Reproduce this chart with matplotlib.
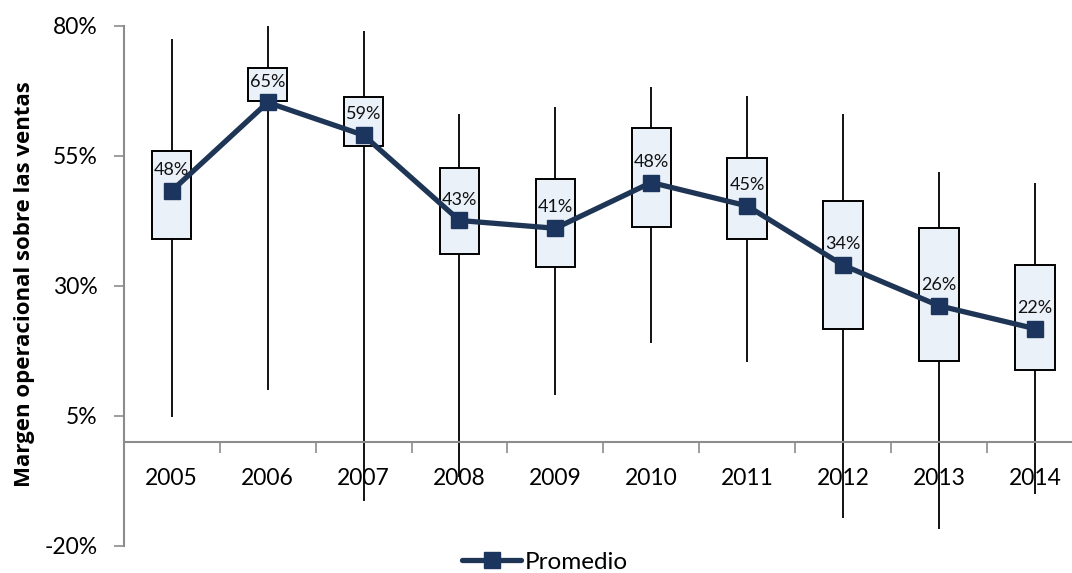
import numpy as np
import matplotlib
matplotlib.use("Agg")
import matplotlib.pyplot as plt
from matplotlib.ticker import FixedLocator, NullFormatter

plt.rcParams['font.family'] = ['Lato', 'DejaVu Sans']

years = ["2005", "2006", "2007", "2008", "2009", "2010", "2011", "2012", "2013", "2014"]
whisker_high = [77.5, 80.0, 79.0, 63.0, 64.5, 68.3, 66.6, 63.0, 51.9, 49.8]
box_high = [56.0, 72.0, 66.4, 52.6, 50.6, 60.3, 54.7, 46.3, 41.2, 34.0]
box_low = [39.0, 65.6, 57.0, 36.2, 33.7, 41.3, 39.1, 21.7, 15.6, 13.8]
whisker_low = [4.75, 10.0, -11.3, -6.7, 9.0, 19.1, 15.4, -14.7, -16.8, -10.0]
promedio = [48.3, 65.3, 59.0, 42.6, 41.1, 49.9, 45.4, 34.0, 26.2, 21.8]
promedio_labels = ["48%", "65%", "59%", "43%", "41%", "48%", "45%", "34%", "26%", "22%"]

navy = '#1f3556'
box_fill = '#eaf1f9'
axis_grey = '#8c8c8c'

fig = plt.figure(figsize=(10.72, 5.73), dpi=100)
ax = fig.add_axes([123.8 / 1072, 1 - 546 / 573, 959 / 1072, 520 / 573])

x = np.arange(len(years))

# whiskers (min-max)
ax.vlines(x, whisker_low, whisker_high, color='black', lw=1.3, zorder=2, clip_on=False)

# boxes
heights = np.array(box_high) - np.array(box_low)
ax.bar(x, heights, width=0.41, bottom=box_low, color=box_fill,
       edgecolor='black', linewidth=1.4, zorder=3)

# average line
line, = ax.plot(x, promedio, color=navy, lw=3.8, marker='s', markersize=11,
                markerfacecolor='#1c355e', markeredgecolor='#1c355e',
                zorder=4, label='Promedio', solid_capstyle='round')

for xi, yi, lab in zip(x, promedio, promedio_labels):
    ax.annotate(lab, (xi, yi), xytext=(0, 15), textcoords='offset points',
                ha='center', va='center', fontsize=13, color='#111111', zorder=5)

ax.set_xlim(-0.5, len(years) - 0.5)
ax.set_ylim(-20, 80)

# y axis
ax.set_yticks([-20, 5, 30, 55, 80])
ax.set_yticklabels(['-20%', '5%', '30%', '55%', '80%'])
ax.tick_params(axis='y', length=7, width=1.2, color=axis_grey, pad=12, labelsize=16.5)

# x axis: boundary ticks, labels at the centres
ax.xaxis.set_major_locator(FixedLocator(np.arange(-0.5, len(years), 1.0)))
ax.xaxis.set_major_formatter(NullFormatter())
ax.xaxis.set_minor_locator(FixedLocator(x))
ax.set_xticklabels(years, minor=True)
ax.tick_params(axis='x', which='major', length=8, width=1.2, color=axis_grey, direction='out')
ax.tick_params(axis='x', which='minor', length=0, pad=19, labelsize=16.5)

ax.spines['top'].set_visible(False)
ax.spines['right'].set_visible(False)
ax.spines['bottom'].set_position(('data', 0))
ax.spines['bottom'].set_color(axis_grey)
ax.spines['bottom'].set_linewidth(1.5)
ax.spines['left'].set_color(axis_grey)
ax.spines['left'].set_linewidth(1.5)

fig.text(25 / 1072, 1 - 284 / 573, 'Margen operacional sobre las ventas',
         rotation=90, ha='center', va='center', fontsize=16, fontweight='bold',
         family=['Open Sans', 'DejaVu Sans'])

fig.legend(handles=[line], loc='center', bbox_to_anchor=(545 / 1072, 1 - 562 / 573),
           frameon=False, fontsize=17.5, handlelength=2.4, handletextpad=0.15,
           borderpad=0, borderaxespad=0)

fig.savefig('out.png', dpi=100)
